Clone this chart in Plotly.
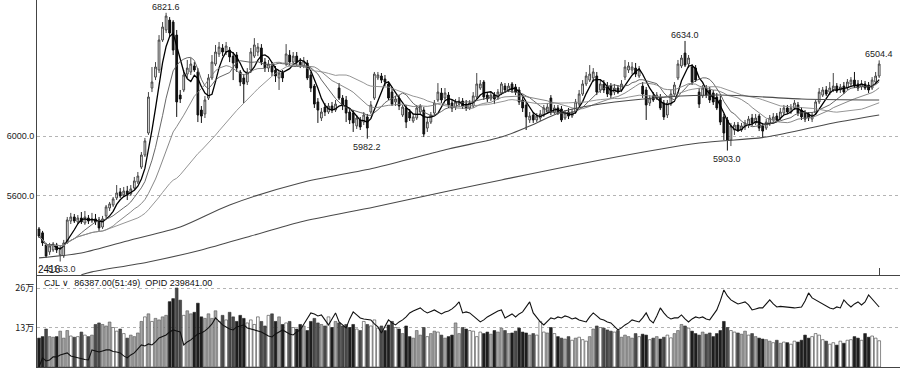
import plotly.graph_objects as go
import pandas as pd

# ---------------- data ----------------
opens = [
 5380,5354,5273,5227,5240,5273,5207,5200,5293,5433,
 5460,5427,5453,5420,5453,5433,5447,5440,5393,5467,
 5520,5540,5587,5627,5607,5633,5613,5653,5693,5793,
 5873,6020,6320,6393,6440,6640,6707,6773,6760,6673,
 6273,6307,6413,6427,6467,6427,6173,6147,6253,6387,
 6480,6547,6587,6560,6573,6533,6540,6427,6387,6360,
 6440,6533,6560,6587,6493,6453,6467,6440,6387,6420,
 6480,6540,6493,6533,6493,6467,6487,6407,6333,6227,
 6120,6193,6160,6200,6173,6320,6253,6240,6160,6153,
 6067,6107,6093,6127,6160,6253,6387,6400,6380,6347,
 6293,6227,6253,6140,6187,6160,6100,6120,6160,6173,
 6053,6093,6153,6240,6287,6253,6273,6220,6193,6213,
 6233,6213,6187,6200,6260,6320,6360,6273,6247,6273,
 6253,6287,6333,6307,6347,6327,6307,6240,6207,6107,
 6140,6107,6120,6140,6160,6253,6160,6187,6180,6120,
 6160,6133,6160,6213,6280,6347,6373,6387,6400,6307,
 6347,6333,6333,6293,6320,6307,6393,6440,6440,6453,
 6400,6333,6307,6220,6267,6253,6260,6220,6140,6213,
 6280,6387,6467,6553,6480,6460,6453,6293,6267,6320,
 6307,6287,6260,6240,6127,6107,5973,6040,6073,6040,
 6060,6073,6120,6087,6133,6067,6053,6080,6107,6133,
 6120,6153,6187,6160,6187,6207,6173,6153,6147,6113,
 6153,6227,6273,6307,6293,6307,6333,6307,6333,6320,
 6347,6373,6347,6327,6347,6340,6320,6360,6400]
highs = [
 5393,5367,5287,5287,5293,5287,5267,5307,5460,5487,
 5480,5473,5493,5500,5473,5487,5480,5460,5467,5540,
 5560,5593,5673,5653,5660,5667,5673,5727,5760,5893,
 5987,6293,6460,6493,6673,6760,6821.6,6793,6773,6707,
 6307,6440,6507,6520,6493,6453,6200,6267,6413,6540,
 6607,6627,6613,6627,6593,6560,6560,6440,6413,6453,
 6587,6653,6620,6613,6520,6507,6493,6467,6440,6440,
 6613,6573,6560,6560,6520,6527,6507,6427,6347,6253,
 6187,6220,6220,6227,6240,6353,6273,6267,6187,6173,
 6140,6127,6160,6147,6233,6427,6427,6420,6407,6360,
 6327,6267,6273,6207,6207,6180,6147,6207,6213,6193,
 6120,6160,6240,6353,6320,6320,6293,6240,6247,6260,
 6253,6240,6240,6293,6420,6373,6373,6293,6293,6293,
 6313,6360,6353,6353,6360,6347,6327,6260,6227,6160,
 6160,6153,6173,6207,6220,6273,6207,6207,6200,6173,
 6187,6180,6247,6307,6373,6427,6473,6453,6427,6373,
 6373,6360,6353,6347,6340,6373,6507,6493,6493,6487,
 6467,6360,6327,6273,6293,6293,6280,6240,6240,6307,
 6360,6507,6540,6634,6540,6480,6473,6320,6340,6340,
 6327,6307,6287,6267,6147,6127,6087,6093,6093,6087,
 6107,6133,6147,6147,6147,6087,6113,6140,6153,6153,
 6187,6207,6207,6213,6240,6227,6193,6173,6160,6160,
 6240,6320,6327,6333,6360,6420,6353,6347,6360,6380,
 6393,6427,6373,6373,6367,6360,6393,6427,6504.4]
lows = [
 5320,5267,5187,5207,5227,5220,5163,5187,5280,5413,
 5420,5413,5413,5407,5413,5420,5407,5367,5380,5453,
 5500,5527,5573,5587,5593,5573,5600,5640,5680,5780,
 5860,6007,6293,6373,6420,6627,6687,6660,6540,6127,
 6220,6293,6387,6407,6427,6093,6087,6120,6240,6373,
 6467,6527,6533,6540,6493,6373,6427,6333,6220,6340,
 6420,6520,6533,6473,6427,6427,6400,6360,6307,6360,
 6467,6473,6480,6467,6453,6453,6373,6293,6187,6087,
 6100,6133,6147,6153,6160,6240,6173,6093,6080,6027,
 6047,6040,6073,5982.2,6147,6240,6373,6353,6333,6240,
 6200,6200,6173,6127,6053,6100,6087,6107,6147,5993,
 6027,6080,6140,6227,6220,6240,6187,6160,6173,6193,
 6180,6167,6173,6187,6247,6307,6240,6227,6233,6213,
 6240,6273,6287,6293,6287,6273,6207,6160,6040,6087,
 6087,6093,6100,6127,6147,6140,6147,6140,6093,6107,
 6113,6120,6147,6200,6267,6333,6360,6360,6273,6287,
 6287,6260,6253,6273,6280,6293,6373,6420,6413,6393,
 6387,6253,6107,6200,6227,6240,6173,6107,6120,6200,
 6267,6373,6453,6460,6453,6340,6360,6187,6253,6253,
 6220,6207,6173,6073,5973,5903,5933,6007,6027,6027,
 6040,6053,6067,6073,6033,5987,6040,6067,6093,6093,
 6107,6140,6147,6147,6173,6133,6107,6093,6100,6093,
 6140,6213,6260,6267,6273,6293,6287,6287,6280,6307,
 6333,6320,6300,6307,6307,6287,6307,6347,6387]
closes = [
 5333,5287,5200,5267,5280,5240,5253,5287,5440,5460,
 5433,5453,5427,5460,5433,5447,5427,5387,5447,5527,
 5547,5580,5620,5600,5633,5613,5647,5700,5733,5873,
 5967,6260,6360,6460,6640,6727,6800,6687,6573,6227,
 6247,6407,6453,6480,6440,6140,6133,6240,6387,6493,
 6560,6593,6560,6600,6527,6487,6453,6360,6347,6427,
 6560,6607,6593,6493,6453,6480,6427,6400,6420,6387,
 6547,6493,6533,6493,6473,6500,6387,6320,6213,6173,
 6160,6160,6200,6173,6213,6253,6200,6153,6107,6087,
 6120,6060,6140,6053,6207,6413,6407,6373,6360,6253,
 6213,6247,6200,6193,6093,6120,6127,6187,6200,6013,
 6093,6140,6220,6293,6240,6287,6207,6187,6227,6233,
 6200,6187,6220,6267,6347,6347,6260,6247,6273,6247,
 6293,6347,6307,6333,6307,6293,6227,6187,6127,6133,
 6107,6133,6147,6187,6193,6160,6187,6160,6107,6153,
 6133,6160,6227,6280,6347,6400,6413,6427,6293,6347,
 6307,6280,6273,6320,6293,6347,6460,6467,6460,6413,
 6440,6280,6207,6253,6240,6273,6187,6127,6220,6280,
 6340,6480,6520,6473,6520,6360,6373,6213,6320,6273,
 6240,6227,6187,6093,6020,5973,6067,6073,6040,6067,
 6087,6113,6087,6120,6053,6033,6093,6120,6127,6107,
 6160,6187,6160,6187,6220,6153,6127,6113,6120,6140,
 6227,6293,6307,6280,6320,6333,6300,6327,6293,6360,
 6373,6333,6320,6347,6320,6307,6373,6400,6480]
volume_k = [
 95,100,125,100,98,100,118,95,120,102,
 98,100,115,105,100,105,140,145,140,135,
 148,130,118,125,110,95,105,100,112,150,
 165,175,150,160,155,165,170,215,225,260,
 220,170,185,175,180,210,165,160,175,160,
 185,150,170,155,180,165,150,170,160,145,
 155,140,165,150,135,170,175,150,165,140,
 145,150,130,125,140,135,120,150,160,145,
 140,135,165,130,150,145,135,140,130,140,
 125,120,150,140,135,155,128,135,120,138,
 150,130,125,110,135,100,95,120,105,130,
 100,110,118,115,105,95,100,105,145,110,
 130,125,120,118,100,115,110,115,108,120,
 115,128,120,110,112,118,128,115,112,105,
 110,105,150,115,112,130,110,100,95,92,
 100,88,95,98,90,85,100,125,135,130,
 128,122,118,115,120,98,105,100,95,110,
 100,108,105,90,95,100,92,98,105,96,
 110,120,140,135,128,118,110,105,115,108,
 112,100,110,120,150,130,120,115,112,108,
 118,105,110,100,95,92,90,85,80,88,
 78,82,80,75,85,82,88,105,95,100,
 110,105,90,85,75,80,72,85,78,88,
 90,100,95,88,110,98,102,95,86.387]
oi_k = [
 120,138,132,134,140,140,144,146,148,142,
 140,138,136,135,134,154,152,150,152,154,
 154,151,150,148,142,138,144,148,156,164,
 162,166,164,170,178,181,184,190,194,192,
 190,164,170,174,180,186,188,192,198,206,
 218,210,204,200,196,194,200,202,204,198,
 196,194,192,190,186,182,180,186,190,194,
 190,186,184,190,194,205,215,228,226,222,
 224,214,204,216,228,210,204,198,216,230,
 224,218,216,215,214,206,200,188,200,214,
 208,204,210,214,220,228,232,235,238,232,
 228,231,234,230,226,230,232,236,242,250,
 228,230,228,222,216,210,214,220,224,228,
 232,234,218,222,226,220,226,230,240,250,
 228,218,210,204,212,218,216,220,218,222,
 220,216,218,214,212,210,220,228,222,216,
 214,210,208,200,194,198,204,208,214,212,
 210,218,228,214,208,222,238,228,220,216,
 218,218,224,216,210,216,220,218,220,216,
 214,224,234,252,274,262,254,250,246,248,
 250,244,234,236,238,238,246,254,246,240,
 241,240,240,239,238,239,240,252,268,258,
 254,250,246,242,238,236,240,238,254,246,
 240,246,250,244,250,264,256,250,239.841]

# long moving averages (sampled along their curves): candle index -> price
long_ma_a_idx = [0, 12, 26, 40, 54, 74, 95, 116, 131, 139, 148, 159, 178, 193, 216, 238]
long_ma_a_val = [5187, 5220, 5307, 5393, 5540, 5687, 5787, 5913, 5993, 6067, 6160, 6213, 6260, 6273, 6247, 6240]
long_ma_b_idx = [12, 15, 31, 46, 60, 74, 95, 116, 131, 159, 187, 206, 225, 238]
long_ma_b_val = [5075, 5094, 5160, 5240, 5333, 5427, 5527, 5633, 5707, 5840, 5953, 5993, 6087, 6140]

marks = [(36, 6821.6, "6821.6", "bottom"), (93, 5982.2, "5982.2", "top"),
         (183, 6634.0, "6634.0", "bottom"), (195, 5903.0, "5903.0", "top"),
         (238, 6504.4, "6504.4", "bottom")]

# ---------------- figure ----------------
n = min(len(opens), len(highs), len(lows), len(closes), len(volume_k), len(oi_k))
x = list(range(n))
opens, highs, lows, closes = opens[:n], highs[:n], lows[:n], closes[:n]
vol = [v * 1000 for v in volume_k[:n]]
oi = [v * 1000 for v in oi_k[:n]]

cs = pd.Series(closes)
ma = {w: cs.rolling(w, min_periods=1).mean() for w in (5, 10, 20, 40)}

FONT = "Liberation Sans"
fig = go.Figure()

fig.add_trace(go.Candlestick(
    x=x, open=opens, high=highs, low=lows, close=closes,
    increasing=dict(line=dict(color="#444444", width=1), fillcolor="white"),
    decreasing=dict(line=dict(color="#111111", width=1), fillcolor="#111111"),
    whiskerwidth=0, xaxis="x", yaxis="y", showlegend=False, hoverinfo="skip"))

ma_style = {5: ("#000000", 1.3), 10: ("#555555", 0.9), 20: ("#7a7a7a", 0.9), 40: ("#8a8a8a", 0.9)}
for w, s in ma.items():
    c, lw = ma_style[w]
    fig.add_trace(go.Scatter(x=x, y=s, mode="lines", line=dict(color=c, width=lw),
                             xaxis="x", yaxis="y", showlegend=False, hoverinfo="skip"))

for ix, iv in ((long_ma_a_idx, long_ma_a_val), (long_ma_b_idx, long_ma_b_val)):
    fig.add_trace(go.Scatter(x=ix, y=iv, mode="lines",
                             line=dict(color="#4a4a4a", width=1.1, shape="spline", smoothing=0.8),
                             xaxis="x", yaxis="y", showlegend=False, hoverinfo="skip"))

# volume bars coloured by price direction and open-interest change
fills, outlines = [], []
for i in range(n):
    up = closes[i] >= opens[i]
    oi_up = i == 0 or oi[i] >= oi[i - 1]
    if up and oi_up:
        fills.append("#a6a6a6"); outlines.append("#555555")
    elif up:
        fills.append("#ffffff"); outlines.append("#3a3a3a")
    elif oi_up:
        fills.append("#1e1e1e"); outlines.append("#1e1e1e")
    else:
        fills.append("#4a4a4a"); outlines.append("#333333")

fig.add_trace(go.Bar(x=x, y=vol, marker=dict(color=fills, line=dict(color=outlines, width=0.6)),
                     xaxis="x2", yaxis="y2", showlegend=False, hoverinfo="skip"))
fig.add_trace(go.Scatter(x=x, y=oi, mode="lines", line=dict(color="#111111", width=1.1),
                         xaxis="x2", yaxis="y3", showlegend=False, hoverinfo="skip"))

W, H = 900, 369
left = 37 / W
main_bottom = (H - 275) / H
vol_bottom = (H - 367) / H
xr = [-0.57, 243.9]

fig.update_layout(
    width=W, height=H, margin=dict(l=0, r=0, t=0, b=0),
    paper_bgcolor="white", plot_bgcolor="white", bargap=0.22,
    font=dict(family=FONT, size=9, color="#222"),
    xaxis=dict(domain=[left, 1], range=xr, anchor="y", showline=True, linecolor="#444",
               linewidth=1, showgrid=False, zeroline=False, rangeslider=dict(visible=False),
               ticks="inside", tickvals=[n - 1], ticklen=7, tickcolor="#444",
               showticklabels=False),
    yaxis=dict(domain=[main_bottom, 1], range=[5073, 6907], anchor="x", showline=True,
               linecolor="#444", linewidth=1, zeroline=False, showgrid=True,
               gridcolor="#b4b4b4", griddash="dot", gridwidth=1,
               tickvals=[5600, 6000], ticktext=["5600.0", "6000.0"], ticks="",
               tickfont=dict(family=FONT, size=9, color="#222")),
    xaxis2=dict(domain=[left, 1], range=xr, anchor="y2", showline=True, linecolor="#444",
                linewidth=1, showgrid=False, zeroline=False, showticklabels=False, ticks=""),
    yaxis2=dict(domain=[vol_bottom, main_bottom], range=[0, 302800], anchor="x2",
                showline=True, linecolor="#444", linewidth=1, zeroline=False, showgrid=True,
                gridcolor="#b4b4b4", griddash="dot", gridwidth=1,
                tickvals=[130000, 260000], ticktext=["13万", "26万"], ticks="",
                tickfont=dict(family="Noto Sans CJK SC", size=9, color="#222")),
    yaxis3=dict(overlaying="y2", range=[119841, 303841], visible=False, anchor="x2"),
)

for xi, yv, txt, anc in marks:
    fig.add_annotation(x=xi, y=yv, xref="x", yref="y", text=txt, showarrow=False,
                       yanchor=anc, yshift=0 if anc == "bottom" else -2, borderpad=0,
                       font=dict(family=FONT, size=9, color="#222"))

# overlapping low labels at the bottom-left
fig.add_annotation(x=-0.5, y=5163, xref="x", yref="y", text="2416", showarrow=False,
                   xanchor="left", yanchor="top", yshift=-1, borderpad=0,
                   font=dict(family=FONT, size=10, color="#111"))
fig.add_annotation(x=6.5, y=5163, xref="x", yref="y", text="5163.0", showarrow=False,
                   xanchor="center", yanchor="top", yshift=-1, borderpad=0,
                   font=dict(family=FONT, size=9, color="#333"))

fig.add_annotation(x=42 / W, y=(H - 276) / H, xref="paper", yref="paper",
                   text="CJL ∨  86387.00(51:49)  OPID 239841.00", showarrow=False,
                   xanchor="left", yanchor="top",
                   font=dict(family=FONT, size=9, color="#111"))

fig.write_html("out.html")
